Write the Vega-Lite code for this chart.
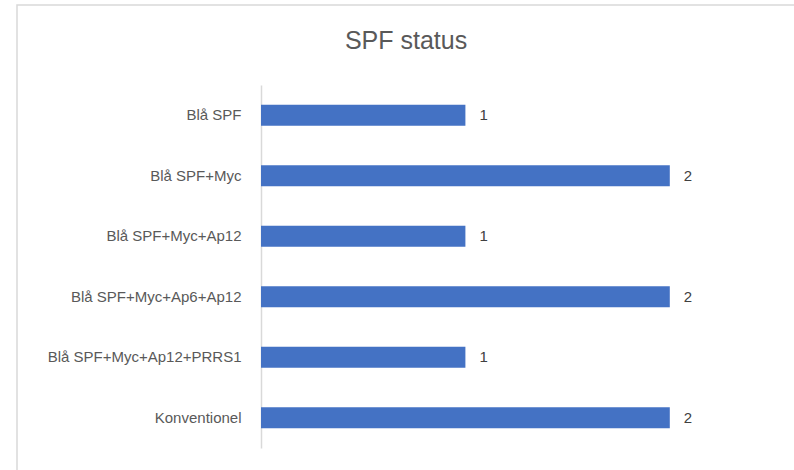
{
  "$schema": "https://vega.github.io/schema/vega-lite/v6.json",
  "autosize": "none",
  "width": 800,
  "height": 480,
  "padding": {"left": 17, "top": 5, "right": 0, "bottom": 0},
  "background": "white",
  "title": {
    "text": "SPF status",
    "anchor": "middle",
    "frame": "group",
    "orient": "top",
    "offset": -69,
    "baseline": "alphabetic",
    "dx": -11,
    "font": "Liberation Sans",
    "fontSize": 25,
    "fontWeight": "normal",
    "color": "#595959"
  },
  "config": {
    "view": {"stroke": "#d9d9d9", "strokeWidth": 1.5},
    "font": "Liberation Sans"
  },
  "data": {
    "values": [
      {"status": "Blå SPF", "antal": 1},
      {"status": "Blå SPF+Myc", "antal": 2},
      {"status": "Blå SPF+Myc+Ap12", "antal": 1},
      {"status": "Blå SPF+Myc+Ap6+Ap12", "antal": 2},
      {"status": "Blå SPF+Myc+Ap12+PRRS1", "antal": 1},
      {"status": "Konventionel", "antal": 2}
    ]
  },
  "encoding": {
    "y": {
      "field": "status",
      "type": "nominal",
      "sort": null,
      "scale": {"range": [80, 443], "paddingInner": 0.653, "paddingOuter": 0.3265},
      "axis": {
        "title": null,
        "offset": -244,
        "domainColor": "#d9d9d9",
        "domainWidth": 1.5,
        "ticks": false,
        "labelPadding": 20,
        "labelFontSize": 15,
        "labelLimit": 300,
        "labelColor": "#595959",
        "labelFont": "Liberation Sans"
      }
    },
    "x": {
      "field": "antal",
      "type": "quantitative",
      "scale": {"domain": [0, 2.5], "range": [244, 755], "nice": false},
      "axis": null
    }
  },
  "layer": [
    {"mark": {"type": "bar", "color": "#4472C4"}},
    {
      "mark": {"type": "text", "align": "left", "baseline": "middle", "dx": 14, "fontSize": 15, "color": "#404040", "font": "Liberation Sans"},
      "encoding": {"text": {"field": "antal", "type": "quantitative"}}
    }
  ]
}
